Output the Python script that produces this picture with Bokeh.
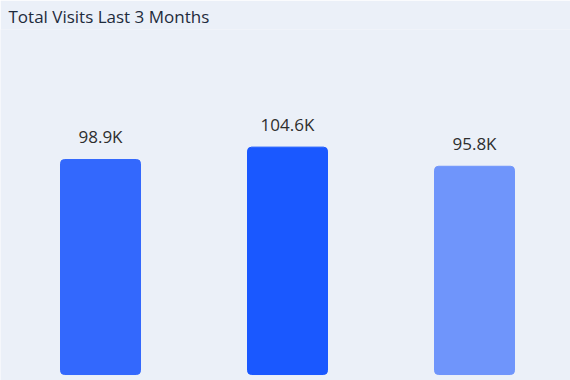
from bokeh.plotting import figure
from bokeh.models import ColumnDataSource, Range1d
from bokeh.core.properties import value
from bokeh.embed import file_html
from bokeh.resources import INLINE

months = ["Month 1", "Month 2", "Month 3"]
visits_k = [98.9, 104.6, 95.8]
labels = ["98.9K", "104.6K", "95.8K"]
colors = ["#3368FD", "#1A58FF", "#6F95FB"]

x = list(range(len(months)))
src = ColumnDataSource(dict(x=x, top=visits_k, label=labels, color=colors))

W, H = 570, 380
PX_PER_UNIT = 187.0
PX_PER_K = 2.18
TITLE_H = 28
frame_h = H - TITLE_H
y0 = -6 / PX_PER_K
p = figure(width=W, height=H, output_backend="svg", toolbar_location=None,
           x_range=Range1d(-100 / PX_PER_UNIT, -100 / PX_PER_UNIT + W / PX_PER_UNIT),
           y_range=Range1d(y0, y0 + frame_h / PX_PER_K),
           min_border_left=0, min_border_right=0, min_border_top=0, min_border_bottom=0)
p.title.text = "Total Visits Last 3 Months"
p.title.text_font = "Open Sans"
p.title.text_font_size = "17px"
p.title.text_font_style = "normal"
p.title.text_color = "#1E2B3C"
p.title.offset = 8
p.title.standoff = 4
p.title.background_fill_color = "#EBF0F8"

p.background_fill_color = "#EBF0F8"
p.border_fill_color = "#EBF0F8"
p.outline_line_color = None
p.xaxis.visible = False
p.yaxis.visible = False
p.xgrid.visible = False
p.ygrid.visible = False

p.vbar(x="x", top="top", bottom=0, width=80 / PX_PER_UNIT, color="color", source=src,
       border_radius=4)
p.text(x="x", y="top", text="label", source=src, text_align="center",
       text_baseline="alphabetic", y_offset=-23, text_font=value("Open Sans"),
       text_font_size="17px", text_color="#2E2E2E")

open("out.html", "w").write(file_html(p, INLINE))
